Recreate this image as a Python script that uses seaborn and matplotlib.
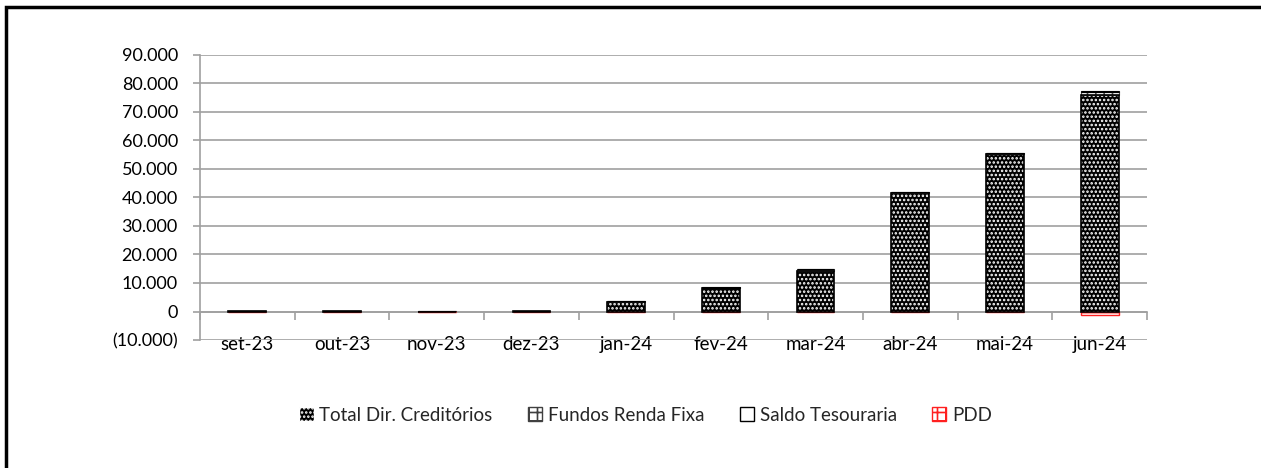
import numpy as np
import pandas as pd
import seaborn as sns
import matplotlib.pyplot as plt
from matplotlib.patches import Patch, Rectangle
from matplotlib.ticker import FuncFormatter, MultipleLocator

# dados (R$ mil)
meses = ['set-23', 'out-23', 'nov-23', 'dez-23', 'jan-24', 'fev-24',
         'mar-24', 'abr-24', 'mai-24', 'jun-24']
total_dir = [150, 150, 0, 150, 3500, 8200, 14200, 41600, 55300, 75800]
fundos = [0, 0, 100, 0, 100, 200, 600, 300, 200, 1200]
saldo = [20, 20, 20, 20, 30, 50, 50, 100, 100, 200]
pdd = [0, 0, 0, 0, 0, 0, 0, 0, -200, -1200]

df = pd.DataFrame({'mes': meses, 'total': total_dir, 'fundos': fundos,
                   'saldo': saldo, 'pdd': pdd})

sns.set_style('white')
plt.rcParams['font.family'] = ['Lato', 'DejaVu Sans']
plt.rcParams['hatch.linewidth'] = 1.2

fig = plt.figure(figsize=(12.61, 4.68), dpi=100)
ax = fig.add_axes([0.1586, 0.2735, 0.7510, 0.609])

bw = 0.4
# Total Dir. Creditórios: preto com pontos brancos
sns.barplot(data=df, x='mes', y='total', color='black', edgecolor='white',
            hatch='....', linewidth=0, width=bw, ax=ax, zorder=3)
sns.barplot(data=df, x='mes', y='total', fill=False, edgecolor='black',
            linewidth=1.2, width=bw, ax=ax, zorder=4)
# Fundos Renda Fixa
sns.barplot(data=df, x='mes', y='fundos', bottom=df['total'], color='white',
            edgecolor='#505050', hatch='++', linewidth=0.8, width=bw, ax=ax,
            zorder=3)
# Saldo Tesouraria
sns.barplot(data=df, x='mes', y='saldo', bottom=df['total'] + df['fundos'],
            color='white', edgecolor='black', linewidth=0.8, width=bw, ax=ax,
            zorder=3)
# PDD
sns.barplot(data=df, x='mes', y='pdd', color='white', edgecolor='#ff2020',
            hatch='--', linewidth=1.0, width=bw, ax=ax, zorder=3)

ax.set_xlim(-0.5, len(meses) - 0.5)
ax.set_ylim(-10000, 90000)
ax.yaxis.set_major_locator(MultipleLocator(10000))


def fmt(v, pos):
    if v == 0:
        return '0'
    s = f'{abs(v):,.0f}'.replace(',', '.')
    return f'({s})' if v < 0 else s


ax.yaxis.set_major_formatter(FuncFormatter(fmt))
ax.set_xlabel('')
ax.set_ylabel('')

grey = '#a0a0a0'
ax.yaxis.grid(True, color=grey, linewidth=1.2, zorder=0)
ax.set_axisbelow(True)
for s in ['top', 'right']:
    ax.spines[s].set_visible(False)
ax.spines['left'].set_color(grey)
ax.spines['left'].set_linewidth(1.2)
ax.spines['bottom'].set_position(('data', 0))
ax.spines['bottom'].set_color(grey)
ax.spines['bottom'].set_linewidth(1.2)

ax.tick_params(axis='y', which='major', left=True, length=5, width=1.2,
               color=grey, labelsize=13, pad=11, labelcolor='black')
ax.tick_params(axis='x', which='major', bottom=False, labelsize=13.5, pad=14,
               labelcolor='black')
ax.set_xticks(np.arange(-0.5, len(meses)), minor=True)
ax.tick_params(axis='x', which='minor', bottom=True, length=6, width=1.2,
               color=grey, direction='out')

# legenda
handles = [
    Patch(facecolor='black', edgecolor='white', hatch='....', label='Total Dir. Creditórios'),
    Patch(facecolor='white', edgecolor='#404040', hatch='++', label='Fundos Renda Fixa'),
    Patch(facecolor='white', edgecolor='black', label='Saldo Tesouraria'),
    Patch(facecolor='white', edgecolor='#ff2020', hatch='++', label='PDD'),
]
fig.legend(handles=handles, loc='center', bbox_to_anchor=(0.512, 0.113),
           ncol=4, frameon=False, fontsize=13.5, handlelength=0.75,
           handleheight=0.75, handletextpad=0.3, columnspacing=1.9)

# moldura do gráfico (só topo e esquerda visíveis)
fig.add_artist(Rectangle((0.0048, -0.2), 1.5, 1.185, fill=False,
                         edgecolor='black', linewidth=2.5,
                         transform=fig.transFigure))

fig.savefig('out.png', dpi=100)
